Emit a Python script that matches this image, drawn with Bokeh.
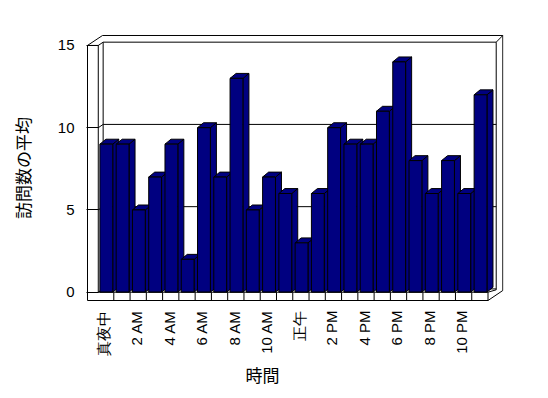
import math
import numpy as np
from bokeh.plotting import figure
from bokeh.models import Range1d, FixedTicker, Title
from bokeh.embed import file_html
from bokeh.resources import INLINE

# ---------------- data ----------------
hours = ["真夜中", "1 AM", "2 AM", "3 AM", "4 AM", "5 AM", "6 AM", "7 AM",
         "8 AM", "9 AM", "10 AM", "11 AM", "正午", "1 PM", "2 PM", "3 PM",
         "4 PM", "5 PM", "6 PM", "7 PM", "8 PM", "9 PM", "10 PM", "11 PM"]
visits = [9, 9, 5, 7, 9, 2, 10, 7, 13, 5, 7, 6, 3, 6, 10, 9, 9, 11, 14, 8, 6, 8, 6, 12]
y_ticks = [0, 5, 10, 15]
label_every = 2
x_title = "時間"
y_title = "訪問数の平均"

NAVY = "#000080"

# ---------------- layout (pixels) ----------------
W, H = 548, 398
FRAME_L, FRAME_R, FRAME_T, FRAME_B = 86, 503, 34, 301
PX_PER_CAT = 16.27
PX_PER_VAL = 16.45
CAT0_PX = 99.4
ZERO_PX = 291.7

x0 = (FRAME_L - CAT0_PX) / PX_PER_CAT
x1 = x0 + (FRAME_R - FRAME_L) / PX_PER_CAT
y1 = (ZERO_PX - FRAME_T) / PX_PER_VAL
y0 = y1 - (FRAME_B - FRAME_T) / PX_PER_VAL

# 3D geometry in data units
BAR_W = 0.79
SIDE_DX = 0.37
TOP_DY = 0.30
BACK_DX = 0.30
BACK_DY = 0.20
OUT_L = -0.762
IN_L = -0.10
OUT_TOP_X = 0.16
OUT_TOP = 15.605
OUT_R = 24.764
IN_R = 24.358
DIV_OFF = 0.854
FLOOR_B = -0.505
n = len(visits)
FLOOR_R = (n - 1) + DIV_OFF
VMAX = y_ticks[-1]

p = figure(width=W, height=H, x_range=Range1d(x0, x1), y_range=Range1d(y0, y1),
           output_backend="svg", toolbar_location=None,
           min_border_left=FRAME_L, min_border_right=W - FRAME_R,
           min_border_top=FRAME_T, min_border_bottom=H - FRAME_B)
p.title.visible = False
p.outline_line_color = None
p.xgrid.visible = False
p.ygrid.visible = False
p.background_fill_color = "white"
p.border_fill_color = "white"

# ---------------- back structure ----------------
back_xs, back_ys = [], []
back_xs.append([OUT_L, OUT_TOP_X, OUT_R, OUT_R, FLOOR_R, OUT_L, OUT_L])
back_ys.append([VMAX, OUT_TOP, OUT_TOP, 0.103, FLOOR_B, FLOOR_B, VMAX])
back_xs.append([OUT_L, IN_L])
back_ys.append([VMAX, VMAX])
back_xs.append([IN_L, IN_L])
back_ys.append([0, VMAX])
back_xs.append([IN_R, OUT_R])
back_ys.append([VMAX + BACK_DY, OUT_TOP])
back_xs.append([IN_R, IN_R, FLOOR_R])
back_ys.append([VMAX + BACK_DY, 0.146, 0])
back_xs.append([IN_L + BACK_DX, IN_L + BACK_DX])
back_ys.append([BACK_DY, VMAX + BACK_DY])
for t in y_ticks:
    back_xs.append([IN_L, IN_L + BACK_DX, IN_R])
    back_ys.append([t, t + BACK_DY, t + BACK_DY])
p.multi_line(back_xs, back_ys, line_color="black", line_width=1)

# ---------------- bars ----------------
idx = np.arange(n, dtype=float)
v = np.array(visits, dtype=float)
left = idx
right = idx + BAR_W
side_xs = [[r, r + SIDE_DX, r + SIDE_DX, r] for r in right]
side_ys = [[0, TOP_DY, h + TOP_DY, h] for h in v]
top_xs = [[l, l + SIDE_DX, r + SIDE_DX, r] for l, r in zip(left, right)]
top_ys = [[h, h + TOP_DY, h + TOP_DY, h] for h in v]
p.patches(side_xs, side_ys, fill_color=NAVY, line_color="black", line_width=1)
p.patches(top_xs, top_ys, fill_color=NAVY, line_color="black", line_width=1)
p.quad(left=left, right=right, bottom=0, top=v, fill_color=NAVY,
       line_color="black", line_width=1)

# ---------------- floor front ----------------
fl_xs, fl_ys = [], []
fl_xs.append([IN_L, FLOOR_R])
fl_ys.append([0, 0])
for k in range(n):
    fl_xs.append([k + DIV_OFF, k + DIV_OFF])
    fl_ys.append([FLOOR_B, 0])
p.multi_line(fl_xs, fl_ys, line_color="black", line_width=1)

# ---------------- axes ----------------
ya = p.yaxis[0]
ya.ticker = FixedTicker(ticks=y_ticks)
ya.axis_line_color = None
ya.major_tick_in = 12
ya.major_tick_out = 0
ya.minor_tick_in = 0
ya.minor_tick_out = 0
ya.major_tick_line_color = "black"
ya.major_label_standoff = 12
ya.major_label_text_font = "Liberation Sans"
ya.major_label_text_font_size = "15px"
ya.major_label_text_color = "black"
ya.axis_label = y_title
ya.axis_label_text_font = "Noto Sans CJK JP"
ya.axis_label_text_font_style = "normal"
ya.axis_label_text_font_size = "17px"
ya.axis_label_text_color = "black"
ya.axis_label_standoff = 20

xa = p.xaxis[0]
shown = list(range(0, n, label_every))
xa.ticker = FixedTicker(ticks=[k + 0.25 for k in shown])
xa.major_label_overrides = {k + 0.25: hours[k] for k in shown}
xa.major_label_orientation = math.pi / 2
xa.axis_line_color = None
xa.major_tick_in = 0
xa.major_tick_out = 0
xa.minor_tick_in = 0
xa.minor_tick_out = 0
xa.major_label_standoff = 9
xa.major_label_text_font = "Liberation Sans"
xa.major_label_text_font_size = "15px"
xa.major_label_text_color = "black"

xt = Title(text=x_title, align="left", offset=159, standoff=2,
           text_font="Noto Sans CJK JP", text_font_size="17px",
           text_font_style="normal", text_color="black")
p.add_layout(xt, "below")

open("out.html", "w").write(file_html(p, INLINE))
